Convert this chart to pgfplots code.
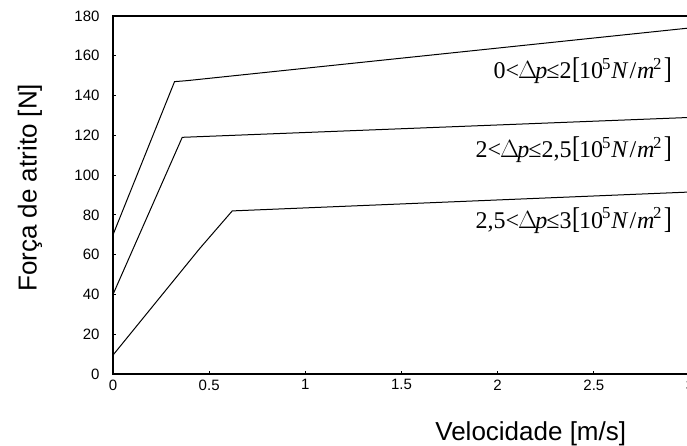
\documentclass[border=0pt]{standalone}
\usepackage{fontspec}
\usepackage{graphicx}
\setmainfont{Liberation Sans}
\newfontfamily\tnr{Liberation Serif}
\usepackage{pgfplots}
\pgfplotsset{compat=1.18}

\newcommand{\faixa}[2]{{\tnr #1<\kern-1pt$\Delta$\kern-2pt\textit{p}\kern-1pt≤#2\kern0.5pt\scalebox{1}[1.25]{[}\kern-1pt10\kern-1pt\textsuperscript{5}\kern0.5pt\textit{N}\kern1pt/\kern1pt\textit{m}\kern-1.5pt\textsuperscript{2}\kern2pt\scalebox{1}[1.25]{]}}}

\begin{document}
\begin{tikzpicture}
  % moldura da figura: eixo de 577pt, cortado a direita como na imagem
  \path[use as bounding box] (-113pt,-71pt) rectangle (574pt,374pt);
  \begin{axis}[
      scale only axis,
      width=577pt, height=358pt,
      at={(0pt,0pt)}, anchor=south west,
      xmin=0, xmax=3, ymin=0, ymax=180,
      xtick={0,0.5,1,1.5,2,2.5,3},
      ytick={0,20,40,60,80,100,120,140,160,180},
      xticklabels={0,0.5,1,1.5,2,2.5,3},
      xtick pos=bottom, ytick pos=left,
      tick align=inside, major tick length=3pt,
      axis line style={line width=1.2pt},
      tick style={line width=1pt, black},
      tick label style={font=\fontsize{15}{15}\selectfont},
      /pgf/number format/assume math mode=true,
      xticklabel style={yshift=-2pt},
      yticklabel style={xshift=-10pt},
      xlabel={Velocidade [m/s]},
      ylabel={Força de atrito [N]},
      label style={font=\fontsize{26}{26}\selectfont},
      xlabel style={at={(rel axis cs:0.724,0)}, anchor=base, yshift=-66pt},
      ylabel style={at={(rel axis cs:-0.144,0.52)}, anchor=center},
      clip=false,
    ]
    \addplot[black, line width=1pt] coordinates {
      (0,70) (0.32,147) (0.385,147.5) (3,174)
    };
    \addplot[black, line width=1pt] coordinates {
      (0,40) (0.36,119) (3,129)
    };
    \addplot[black, line width=1pt] coordinates {
      (0,9.5) (0.45,63) (0.62,82) (3,91.5)
    };
    \node[anchor=base east, font=\fontsize{24}{24}\selectfont, inner sep=0pt]
      at (axis cs:2.907,148.8) {\faixa{0}{2}};
    \node[anchor=base east, font=\fontsize{24}{24}\selectfont, inner sep=0pt]
      at (axis cs:2.907,109) {\faixa{2}{2,5}};
    \node[anchor=base east, font=\fontsize{24}{24}\selectfont, inner sep=0pt]
      at (axis cs:2.907,73.4) {\faixa{2,5}{3}};
  \end{axis}
\end{tikzpicture}
\end{document}
